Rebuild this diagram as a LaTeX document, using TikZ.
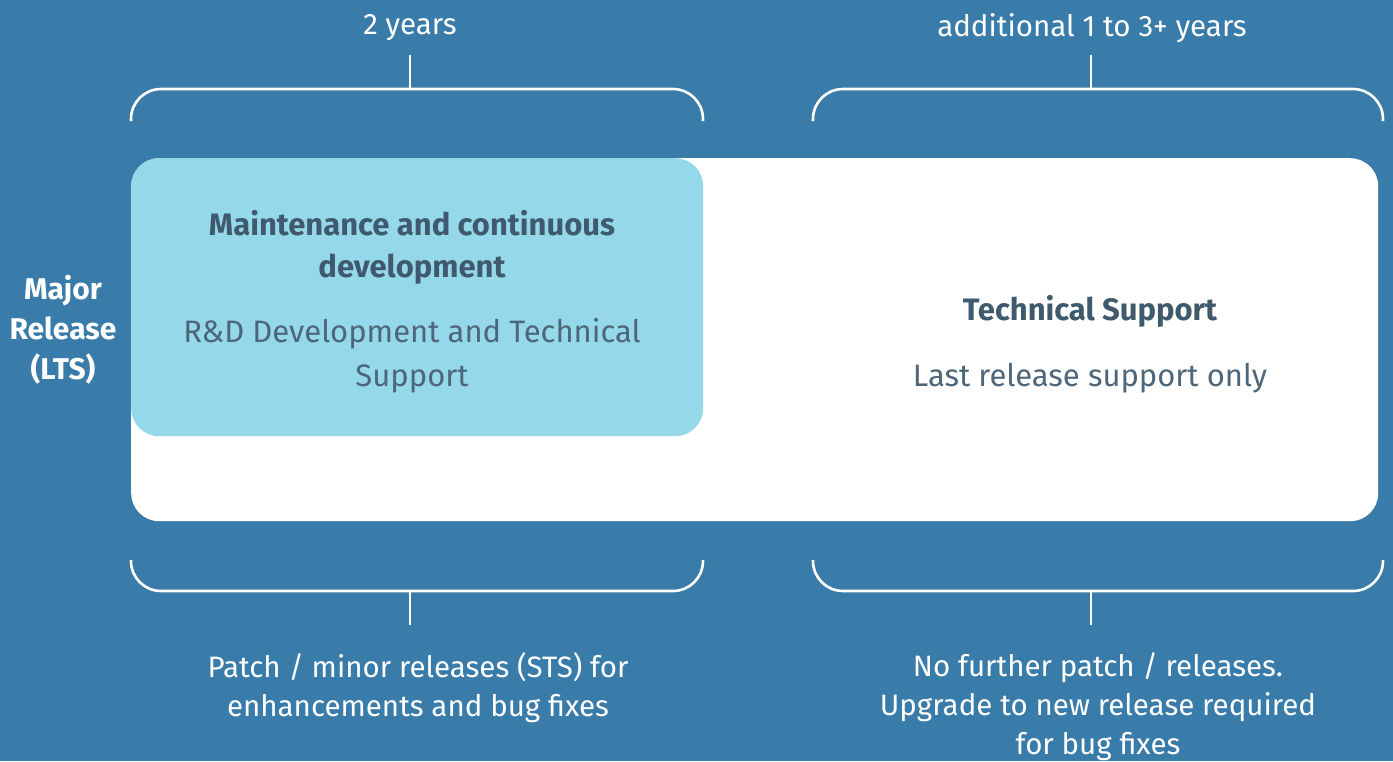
\documentclass[tikz,border=0pt]{standalone}
\usepackage{fontspec}
\setmainfont{Fira Sans}
\definecolor{bgblue}{HTML}{3A7CA9}
\definecolor{lightblue}{HTML}{95D8EA}
\definecolor{darktext}{HTML}{3F5A6D}
\definecolor{softtext}{HTML}{4D6679}
\tikzset{
  brace/.style={draw=white, line width=2.6pt, rounded corners=30pt},
  stem/.style={draw=white, line width=2.6pt},
  lbl/.style={text=white, align=center, font=\fontsize{29.5}{39}\selectfont, inner sep=0pt},
  head/.style={text=darktext, align=center, font=\fontsize{31}{42}\selectfont\bfseries, inner sep=0pt},
  body/.style={text=softtext, align=center, font=\fontsize{31}{44}\selectfont, inner sep=0pt},
}
\begin{document}
\begin{tikzpicture}[x=1pt,y=-1pt]
\useasboundingbox (0,0) rectangle (1393,761);
\fill[bgblue] (0,0) rectangle (1393,761);
% boxes
\node[draw=none, fill=white, rounded corners=28pt, minimum width=1247pt, minimum height=363pt, anchor=north west, inner sep=0pt] (whitebox) at (131,158) {};
\node[draw=none, fill=lightblue, rounded corners=28pt, minimum width=572pt, minimum height=278pt, anchor=north west, inner sep=0pt] (bluebox) at (131,158) {};
% texts in boxes
\node[head] (mh) at (412,247) {Maintenance and continuous\\development};
\node[body] (mb) at (412,356) {R\&D Development and Technical\\Support};
\node[head] (th) at (1090,311) {Technical Support};
\node[body] (tb) at (1090,378) {Last release support only};
\node[text=white, align=center, font=\fontsize{30}{40}\selectfont\bfseries, inner sep=0pt] (major) at (63,330) {Major\\Release\\(LTS)};
% top labels
\node[lbl] (t1) at (410,28) {2 years};
\node[lbl] (t2) at (1092,28) {additional 1 to 3+ years};
% bottom labels
\node[lbl] (b1) at (418,688) {Patch / minor releases (STS) for\\enhancements and bug fixes};
\node[lbl] (b2) at (1098,707) {No further patch / releases.\\Upgrade to new release required\\for bug fixes};
% brackets
\coordinate (tl) at (410,89);
\coordinate (tr) at (1091,89);
\coordinate (bl) at (410,591);
\coordinate (br) at (1091,591);
\draw[brace] (131,121) -- (131,89) -- (703,89) -- (703,121);
\draw[brace] (813,121) -- (813,89) -- (1383,89) -- (1383,121);
\draw[brace] (131,560) -- (131,591) -- (703,591) -- (703,560);
\draw[brace] (813,560) -- (813,591) -- (1383,591) -- (1383,560);
\draw[stem] (tl) -- (tl |- 0,55);
\draw[stem] (tr) -- (tr |- 0,55);
\draw[stem] (bl) -- (bl |- 0,625);
\draw[stem] (br) -- (br |- 0,625);
\end{tikzpicture}
\end{document}
